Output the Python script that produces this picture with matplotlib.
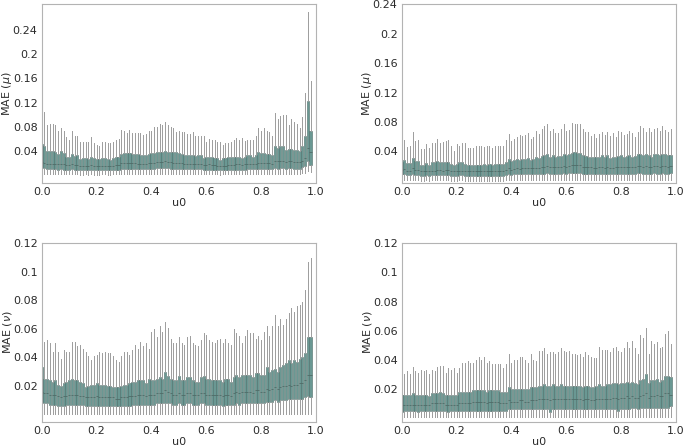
import numpy as np
import matplotlib
matplotlib.use("Agg")
import matplotlib.pyplot as plt

# u0 positions of the boxes
u0 = [round(0.01 * k, 2) for k in range(99)]

# --- MAE(mu), left model ---
mu_a_hi = [0.109, 0.105, 0.082, 0.084, 0.085, 0.082, 0.072, 0.077, 0.072, 0.062,
           0.058, 0.072, 0.064, 0.065, 0.055, 0.054, 0.055, 0.054, 0.063, 0.053,
           0.049, 0.048, 0.055, 0.055, 0.052, 0.052, 0.055, 0.057, 0.060, 0.074,
           0.072, 0.069, 0.074, 0.069, 0.070, 0.069, 0.069, 0.066, 0.068, 0.072,
           0.072, 0.079, 0.080, 0.084, 0.082, 0.087, 0.083, 0.079, 0.077, 0.071,
           0.072, 0.071, 0.071, 0.067, 0.067, 0.071, 0.065, 0.065, 0.065, 0.065,
           0.055, 0.059, 0.058, 0.057, 0.054, 0.055, 0.050, 0.053, 0.052, 0.055,
           0.057, 0.061, 0.057, 0.061, 0.056, 0.058, 0.058, 0.058, 0.065, 0.078,
           0.073, 0.078, 0.073, 0.071, 0.065, 0.102, 0.092, 0.097, 0.099, 0.100,
           0.082, 0.092, 0.088, 0.084, 0.078, 0.096, 0.135, 0.270, 0.156]
mu_a_q3 = [0.051, 0.048, 0.039, 0.039, 0.039, 0.038, 0.035, 0.039, 0.036, 0.030,
           0.030, 0.035, 0.031, 0.032, 0.026, 0.027, 0.027, 0.026, 0.029, 0.027,
           0.026, 0.026, 0.027, 0.027, 0.026, 0.025, 0.028, 0.029, 0.030, 0.035,
           0.036, 0.036, 0.036, 0.035, 0.035, 0.034, 0.033, 0.033, 0.033, 0.035,
           0.036, 0.036, 0.037, 0.038, 0.037, 0.040, 0.038, 0.038, 0.038, 0.038,
           0.036, 0.035, 0.033, 0.033, 0.033, 0.032, 0.031, 0.032, 0.033, 0.028,
           0.029, 0.030, 0.029, 0.028, 0.027, 0.025, 0.027, 0.027, 0.029, 0.030,
           0.030, 0.030, 0.030, 0.028, 0.030, 0.032, 0.032, 0.030, 0.033, 0.038,
           0.036, 0.036, 0.035, 0.034, 0.033, 0.048, 0.044, 0.047, 0.048, 0.041,
           0.043, 0.042, 0.041, 0.041, 0.039, 0.047, 0.065, 0.123, 0.073]
mu_a_med = [0.021, 0.020, 0.018, 0.018, 0.018, 0.018, 0.017, 0.018, 0.017, 0.016,
            0.016, 0.017, 0.016, 0.016, 0.015, 0.015, 0.015, 0.015, 0.016, 0.015,
            0.014, 0.014, 0.015, 0.015, 0.014, 0.014, 0.015, 0.016, 0.016, 0.019,
            0.019, 0.019, 0.019, 0.019, 0.019, 0.018, 0.018, 0.018, 0.018, 0.019,
            0.020, 0.020, 0.021, 0.021, 0.021, 0.022, 0.021, 0.021, 0.020, 0.020,
            0.019, 0.019, 0.018, 0.018, 0.018, 0.018, 0.017, 0.017, 0.018, 0.016,
            0.016, 0.017, 0.016, 0.016, 0.015, 0.015, 0.015, 0.015, 0.016, 0.016,
            0.016, 0.017, 0.017, 0.016, 0.017, 0.017, 0.018, 0.017, 0.018, 0.020,
            0.020, 0.020, 0.019, 0.019, 0.018, 0.023, 0.022, 0.023, 0.023, 0.021,
            0.022, 0.022, 0.021, 0.021, 0.021, 0.023, 0.028, 0.045, 0.038]
mu_a_q1 = [0.012, 0.011, 0.009, 0.009, 0.009, 0.009, 0.008, 0.009, 0.008, 0.008,
           0.008, 0.009, 0.008, 0.008, 0.007, 0.007, 0.007, 0.007, 0.008, 0.007,
           0.007, 0.007, 0.007, 0.007, 0.007, 0.007, 0.007, 0.008, 0.008, 0.010,
           0.010, 0.010, 0.010, 0.010, 0.010, 0.009, 0.009, 0.009, 0.009, 0.010,
           0.010, 0.010, 0.011, 0.011, 0.011, 0.011, 0.011, 0.010, 0.010, 0.010,
           0.010, 0.010, 0.009, 0.009, 0.009, 0.009, 0.009, 0.009, 0.009, 0.008,
           0.008, 0.008, 0.008, 0.008, 0.008, 0.007, 0.008, 0.008, 0.008, 0.008,
           0.008, 0.008, 0.008, 0.008, 0.008, 0.009, 0.009, 0.009, 0.009, 0.010,
           0.010, 0.010, 0.010, 0.009, 0.009, 0.011, 0.010, 0.011, 0.011, 0.010,
           0.011, 0.011, 0.010, 0.010, 0.010, 0.012, 0.014, 0.022, 0.016]
mu_a_lo = [0.001, 0.001, 0.001, 0.001, 0.001, 0.001, 0.001, 0.001, 0.001, 0.001,
           0.001, 0.001, 0.001, 0.001, 0.000, 0.000, 0.001, 0.000, 0.001, 0.000,
           0.000, 0.000, 0.001, 0.001, 0.000, 0.000, 0.001, 0.001, 0.001, 0.001,
           0.001, 0.001, 0.001, 0.001, 0.001, 0.001, 0.001, 0.001, 0.001, 0.001,
           0.001, 0.001, 0.001, 0.001, 0.001, 0.001, 0.001, 0.001, 0.001, 0.001,
           0.001, 0.001, 0.001, 0.001, 0.001, 0.001, 0.001, 0.001, 0.001, 0.001,
           0.001, 0.001, 0.001, 0.001, 0.001, 0.000, 0.001, 0.001, 0.001, 0.001,
           0.001, 0.001, 0.001, 0.001, 0.001, 0.001, 0.001, 0.001, 0.001, 0.001,
           0.001, 0.001, 0.001, 0.001, 0.001, 0.001, 0.001, 0.001, 0.001, 0.001,
           0.001, 0.001, 0.001, 0.001, 0.001, 0.002, 0.003, 0.006, 0.004]

# --- MAE(mu), right model ---
mu_b_hi = [0.052, 0.056, 0.046, 0.048, 0.066, 0.054, 0.056, 0.043, 0.043, 0.050,
           0.044, 0.051, 0.051, 0.057, 0.051, 0.053, 0.054, 0.055, 0.047, 0.041,
           0.050, 0.048, 0.051, 0.051, 0.045, 0.044, 0.044, 0.048, 0.048, 0.048,
           0.046, 0.048, 0.047, 0.044, 0.047, 0.047, 0.047, 0.047, 0.055, 0.064,
           0.054, 0.057, 0.059, 0.063, 0.061, 0.063, 0.065, 0.057, 0.059, 0.068,
           0.064, 0.071, 0.074, 0.077, 0.068, 0.071, 0.065, 0.065, 0.071, 0.077,
           0.068, 0.069, 0.078, 0.077, 0.077, 0.077, 0.071, 0.066, 0.067, 0.061,
           0.064, 0.058, 0.064, 0.067, 0.062, 0.066, 0.061, 0.065, 0.060, 0.068,
           0.067, 0.063, 0.064, 0.068, 0.065, 0.059, 0.066, 0.075, 0.072, 0.066,
           0.072, 0.066, 0.070, 0.072, 0.068, 0.074, 0.069, 0.067, 0.071]
mu_b_q3 = [0.026, 0.028, 0.024, 0.024, 0.031, 0.027, 0.027, 0.021, 0.021, 0.024,
           0.022, 0.025, 0.025, 0.027, 0.026, 0.025, 0.026, 0.026, 0.023, 0.021,
           0.023, 0.025, 0.025, 0.023, 0.022, 0.022, 0.022, 0.022, 0.022, 0.022,
           0.023, 0.022, 0.023, 0.022, 0.023, 0.023, 0.023, 0.023, 0.026, 0.030,
           0.027, 0.029, 0.030, 0.029, 0.030, 0.030, 0.031, 0.029, 0.030, 0.032,
           0.031, 0.034, 0.035, 0.036, 0.033, 0.035, 0.033, 0.034, 0.034, 0.036,
           0.035, 0.037, 0.038, 0.039, 0.038, 0.038, 0.035, 0.034, 0.033, 0.033,
           0.032, 0.032, 0.033, 0.035, 0.032, 0.035, 0.031, 0.032, 0.033, 0.034,
           0.035, 0.033, 0.034, 0.035, 0.033, 0.034, 0.037, 0.037, 0.035, 0.036,
           0.035, 0.033, 0.036, 0.036, 0.035, 0.036, 0.036, 0.035, 0.035]
mu_b_med = [0.015, 0.016, 0.014, 0.014, 0.017, 0.015, 0.015, 0.013, 0.013, 0.014,
            0.013, 0.014, 0.014, 0.015, 0.015, 0.014, 0.015, 0.015, 0.013, 0.013,
            0.013, 0.014, 0.014, 0.013, 0.013, 0.013, 0.013, 0.013, 0.013, 0.013,
            0.013, 0.013, 0.013, 0.013, 0.013, 0.013, 0.013, 0.013, 0.015, 0.017,
            0.015, 0.016, 0.017, 0.016, 0.017, 0.017, 0.018, 0.017, 0.017, 0.018,
            0.018, 0.019, 0.019, 0.020, 0.019, 0.019, 0.019, 0.019, 0.019, 0.020,
            0.019, 0.020, 0.021, 0.021, 0.021, 0.021, 0.019, 0.019, 0.019, 0.019,
            0.018, 0.018, 0.019, 0.019, 0.018, 0.019, 0.018, 0.018, 0.019, 0.019,
            0.019, 0.019, 0.019, 0.019, 0.019, 0.019, 0.020, 0.020, 0.019, 0.020,
            0.019, 0.019, 0.020, 0.020, 0.019, 0.020, 0.020, 0.019, 0.020]
mu_b_q1 = [0.009, 0.009, 0.008, 0.008, 0.009, 0.008, 0.008, 0.007, 0.007, 0.008,
           0.007, 0.008, 0.008, 0.008, 0.008, 0.008, 0.008, 0.008, 0.007, 0.007,
           0.007, 0.008, 0.008, 0.007, 0.007, 0.007, 0.007, 0.007, 0.007, 0.007,
           0.007, 0.007, 0.007, 0.007, 0.007, 0.007, 0.007, 0.007, 0.008, 0.009,
           0.008, 0.009, 0.009, 0.009, 0.009, 0.009, 0.010, 0.009, 0.009, 0.010,
           0.010, 0.010, 0.010, 0.011, 0.010, 0.010, 0.010, 0.010, 0.010, 0.011,
           0.010, 0.011, 0.011, 0.011, 0.011, 0.011, 0.010, 0.010, 0.010, 0.010,
           0.010, 0.010, 0.010, 0.010, 0.010, 0.010, 0.009, 0.010, 0.010, 0.010,
           0.010, 0.010, 0.010, 0.010, 0.010, 0.010, 0.011, 0.011, 0.010, 0.010,
           0.010, 0.010, 0.011, 0.010, 0.010, 0.011, 0.010, 0.010, 0.011]
mu_b_lo = [0.001, 0.001, 0.001, 0.001, 0.001, 0.001, 0.001, 0.000, 0.000, 0.001,
           0.000, 0.001, 0.001, 0.001, 0.001, 0.001, 0.001, 0.001, 0.000, 0.000,
           0.000, 0.001, 0.001, 0.000, 0.000, 0.000, 0.000, 0.000, 0.000, 0.000,
           0.000, 0.000, 0.000, 0.000, 0.000, 0.000, 0.000, 0.000, 0.001, 0.001,
           0.001, 0.001, 0.001, 0.001, 0.001, 0.001, 0.001, 0.001, 0.001, 0.001,
           0.001, 0.001, 0.001, 0.001, 0.001, 0.001, 0.001, 0.001, 0.001, 0.001,
           0.001, 0.001, 0.001, 0.001, 0.001, 0.001, 0.001, 0.001, 0.001, 0.001,
           0.001, 0.001, 0.001, 0.001, 0.001, 0.001, 0.001, 0.001, 0.001, 0.001,
           0.001, 0.001, 0.001, 0.001, 0.001, 0.001, 0.001, 0.001, 0.001, 0.001,
           0.001, 0.001, 0.001, 0.001, 0.001, 0.001, 0.001, 0.001, 0.001]

# --- MAE(nu), left model ---
nu_a_hi = [0.068, 0.051, 0.052, 0.050, 0.044, 0.050, 0.044, 0.039, 0.045, 0.044,
           0.044, 0.051, 0.051, 0.048, 0.049, 0.046, 0.044, 0.041, 0.038, 0.041,
           0.042, 0.044, 0.043, 0.044, 0.043, 0.043, 0.041, 0.038, 0.037, 0.041,
           0.044, 0.044, 0.042, 0.045, 0.049, 0.046, 0.051, 0.048, 0.050, 0.046,
           0.058, 0.060, 0.054, 0.062, 0.058, 0.065, 0.061, 0.053, 0.050, 0.050,
           0.054, 0.050, 0.049, 0.054, 0.055, 0.050, 0.049, 0.048, 0.052, 0.057,
           0.056, 0.052, 0.051, 0.050, 0.052, 0.053, 0.050, 0.053, 0.050, 0.049,
           0.060, 0.057, 0.055, 0.050, 0.055, 0.059, 0.057, 0.057, 0.053, 0.055,
           0.052, 0.058, 0.062, 0.055, 0.062, 0.070, 0.062, 0.067, 0.063, 0.067,
           0.071, 0.075, 0.072, 0.076, 0.077, 0.079, 0.087, 0.107, 0.110]
nu_a_q3 = [0.033, 0.025, 0.025, 0.024, 0.023, 0.024, 0.021, 0.020, 0.022, 0.023,
           0.024, 0.025, 0.024, 0.024, 0.023, 0.022, 0.019, 0.020, 0.021, 0.021,
           0.022, 0.021, 0.021, 0.021, 0.020, 0.020, 0.019, 0.019, 0.019, 0.020,
           0.021, 0.021, 0.022, 0.023, 0.023, 0.024, 0.024, 0.024, 0.022, 0.025,
           0.024, 0.024, 0.025, 0.026, 0.025, 0.030, 0.027, 0.025, 0.024, 0.024,
           0.027, 0.024, 0.024, 0.026, 0.026, 0.024, 0.023, 0.023, 0.026, 0.027,
           0.025, 0.025, 0.024, 0.024, 0.024, 0.024, 0.023, 0.025, 0.025, 0.023,
           0.026, 0.028, 0.026, 0.028, 0.028, 0.028, 0.028, 0.026, 0.029, 0.029,
           0.028, 0.028, 0.033, 0.030, 0.031, 0.032, 0.030, 0.033, 0.035, 0.036,
           0.038, 0.036, 0.038, 0.037, 0.039, 0.040, 0.043, 0.054, 0.054]
nu_a_med = [0.016, 0.015, 0.015, 0.014, 0.014, 0.014, 0.013, 0.012, 0.013, 0.013,
            0.014, 0.014, 0.014, 0.014, 0.013, 0.013, 0.012, 0.012, 0.012, 0.012,
            0.013, 0.012, 0.012, 0.012, 0.012, 0.012, 0.012, 0.011, 0.011, 0.012,
            0.012, 0.012, 0.013, 0.013, 0.013, 0.014, 0.014, 0.014, 0.013, 0.014,
            0.014, 0.014, 0.015, 0.015, 0.015, 0.017, 0.016, 0.015, 0.014, 0.014,
            0.015, 0.014, 0.014, 0.015, 0.015, 0.014, 0.014, 0.014, 0.015, 0.015,
            0.014, 0.014, 0.014, 0.014, 0.014, 0.014, 0.013, 0.014, 0.014, 0.013,
            0.015, 0.016, 0.015, 0.016, 0.016, 0.016, 0.016, 0.015, 0.017, 0.017,
            0.016, 0.016, 0.018, 0.017, 0.018, 0.019, 0.018, 0.019, 0.020, 0.020,
            0.021, 0.020, 0.021, 0.021, 0.022, 0.022, 0.024, 0.028, 0.028]
nu_a_q1 = [0.009, 0.008, 0.008, 0.007, 0.007, 0.007, 0.006, 0.006, 0.006, 0.007,
           0.007, 0.007, 0.007, 0.007, 0.007, 0.007, 0.006, 0.006, 0.006, 0.006,
           0.006, 0.006, 0.006, 0.006, 0.006, 0.006, 0.006, 0.006, 0.006, 0.006,
           0.006, 0.006, 0.006, 0.007, 0.007, 0.007, 0.007, 0.007, 0.007, 0.007,
           0.007, 0.007, 0.008, 0.008, 0.008, 0.008, 0.008, 0.008, 0.007, 0.007,
           0.008, 0.007, 0.007, 0.008, 0.008, 0.007, 0.007, 0.007, 0.008, 0.008,
           0.007, 0.007, 0.007, 0.007, 0.007, 0.007, 0.006, 0.007, 0.007, 0.007,
           0.007, 0.008, 0.007, 0.008, 0.008, 0.008, 0.008, 0.008, 0.008, 0.008,
           0.008, 0.008, 0.009, 0.009, 0.009, 0.010, 0.009, 0.010, 0.010, 0.010,
           0.011, 0.011, 0.011, 0.011, 0.011, 0.011, 0.012, 0.013, 0.012]
nu_a_lo = [0.0004, 0.0004, 0.0004, 0.0003, 0.0003, 0.0003, 0.0003, 0.0003, 0.0003, 0.0003,
           0.0003, 0.0003, 0.0003, 0.0003, 0.0003, 0.0003, 0.0003, 0.0003, 0.0003, 0.0003,
           0.0003, 0.0003, 0.0003, 0.0003, 0.0003, 0.0003, 0.0003, 0.0003, 0.0003, 0.0003,
           0.0003, 0.0003, 0.0003, 0.0003, 0.0003, 0.0003, 0.0003, 0.0003, 0.0003, 0.0003,
           0.0003, 0.0003, 0.0004, 0.0004, 0.0004, 0.0004, 0.0004, 0.0004, 0.0003, 0.0003,
           0.0004, 0.0003, 0.0003, 0.0004, 0.0004, 0.0003, 0.0003, 0.0003, 0.0004, 0.0004,
           0.0003, 0.0003, 0.0003, 0.0003, 0.0003, 0.0003, 0.0003, 0.0003, 0.0003, 0.0003,
           0.0003, 0.0004, 0.0003, 0.0004, 0.0004, 0.0004, 0.0004, 0.0004, 0.0004, 0.0004,
           0.0004, 0.0004, 0.0004, 0.0004, 0.0004, 0.0005, 0.0004, 0.0005, 0.0005, 0.0005,
           0.0005, 0.0005, 0.0005, 0.0005, 0.0005, 0.0005, 0.0006, 0.0007, 0.0006]

# --- MAE(nu), right model ---
nu_b_hi = [0.034, 0.030, 0.032, 0.030, 0.035, 0.032, 0.031, 0.033, 0.032, 0.033,
           0.030, 0.033, 0.032, 0.035, 0.036, 0.036, 0.031, 0.034, 0.033, 0.034,
           0.031, 0.034, 0.038, 0.038, 0.039, 0.038, 0.038, 0.040, 0.042, 0.040,
           0.042, 0.038, 0.039, 0.037, 0.037, 0.037, 0.037, 0.034, 0.037, 0.044,
           0.038, 0.040, 0.040, 0.042, 0.042, 0.040, 0.038, 0.044, 0.040, 0.039,
           0.046, 0.046, 0.048, 0.044, 0.045, 0.045, 0.044, 0.045, 0.048, 0.046,
           0.045, 0.046, 0.044, 0.044, 0.043, 0.044, 0.042, 0.045, 0.043, 0.042,
           0.041, 0.041, 0.049, 0.047, 0.047, 0.047, 0.045, 0.048, 0.049, 0.046,
           0.045, 0.048, 0.052, 0.048, 0.053, 0.048, 0.044, 0.057, 0.055, 0.062,
           0.044, 0.053, 0.051, 0.052, 0.048, 0.049, 0.058, 0.060, 0.051]
nu_b_q3 = [0.016, 0.016, 0.016, 0.016, 0.017, 0.016, 0.016, 0.016, 0.016, 0.016,
           0.015, 0.017, 0.017, 0.017, 0.018, 0.017, 0.016, 0.016, 0.016, 0.016,
           0.016, 0.018, 0.018, 0.018, 0.018, 0.018, 0.019, 0.019, 0.019, 0.019,
           0.019, 0.018, 0.019, 0.019, 0.019, 0.019, 0.018, 0.018, 0.018, 0.021,
           0.020, 0.020, 0.020, 0.020, 0.020, 0.020, 0.020, 0.021, 0.021, 0.021,
           0.022, 0.022, 0.023, 0.022, 0.022, 0.023, 0.022, 0.022, 0.023, 0.022,
           0.022, 0.022, 0.022, 0.022, 0.022, 0.022, 0.021, 0.022, 0.022, 0.021,
           0.021, 0.022, 0.023, 0.022, 0.022, 0.023, 0.023, 0.024, 0.024, 0.023,
           0.024, 0.024, 0.025, 0.024, 0.025, 0.024, 0.023, 0.026, 0.027, 0.030,
           0.024, 0.026, 0.026, 0.027, 0.025, 0.026, 0.029, 0.029, 0.028]
nu_b_med = [0.009, 0.009, 0.009, 0.009, 0.009, 0.009, 0.009, 0.009, 0.009, 0.009,
            0.009, 0.010, 0.010, 0.010, 0.010, 0.010, 0.009, 0.009, 0.009, 0.009,
            0.009, 0.010, 0.010, 0.010, 0.010, 0.010, 0.011, 0.011, 0.011, 0.011,
            0.011, 0.010, 0.011, 0.011, 0.011, 0.011, 0.010, 0.010, 0.010, 0.012,
            0.011, 0.011, 0.011, 0.012, 0.012, 0.011, 0.011, 0.012, 0.012, 0.012,
            0.013, 0.013, 0.013, 0.013, 0.012, 0.013, 0.013, 0.013, 0.013, 0.013,
            0.013, 0.013, 0.013, 0.013, 0.013, 0.013, 0.012, 0.013, 0.013, 0.012,
            0.012, 0.013, 0.013, 0.013, 0.013, 0.013, 0.013, 0.014, 0.014, 0.013,
            0.014, 0.014, 0.015, 0.014, 0.015, 0.014, 0.014, 0.015, 0.016, 0.017,
            0.014, 0.015, 0.015, 0.016, 0.015, 0.015, 0.017, 0.017, 0.016]
nu_b_q1 = [0.004, 0.005, 0.005, 0.005, 0.005, 0.005, 0.004, 0.005, 0.005, 0.005,
           0.005, 0.005, 0.005, 0.005, 0.005, 0.005, 0.005, 0.004, 0.005, 0.005,
           0.005, 0.005, 0.005, 0.005, 0.005, 0.005, 0.005, 0.005, 0.005, 0.005,
           0.005, 0.005, 0.005, 0.005, 0.005, 0.005, 0.005, 0.005, 0.005, 0.006,
           0.006, 0.006, 0.006, 0.006, 0.006, 0.006, 0.006, 0.006, 0.006, 0.006,
           0.006, 0.006, 0.006, 0.006, 0.004, 0.006, 0.006, 0.006, 0.006, 0.006,
           0.006, 0.006, 0.006, 0.006, 0.006, 0.006, 0.006, 0.006, 0.006, 0.006,
           0.006, 0.006, 0.006, 0.006, 0.006, 0.006, 0.006, 0.006, 0.006, 0.005,
           0.006, 0.006, 0.006, 0.006, 0.007, 0.007, 0.006, 0.007, 0.007, 0.007,
           0.007, 0.007, 0.007, 0.007, 0.007, 0.007, 0.007, 0.007, 0.008]
nu_b_lo = [0.0003, 0.0004, 0.0004, 0.0004, 0.0004, 0.0004, 0.0003, 0.0004, 0.0004, 0.0004,
           0.0004, 0.0004, 0.0004, 0.0004, 0.0004, 0.0004, 0.0004, 0.0003, 0.0004, 0.0004,
           0.0004, 0.0004, 0.0004, 0.0004, 0.0004, 0.0004, 0.0004, 0.0004, 0.0004, 0.0004,
           0.0004, 0.0004, 0.0004, 0.0004, 0.0004, 0.0004, 0.0004, 0.0004, 0.0004, 0.0004,
           0.0004, 0.0004, 0.0004, 0.0004, 0.0004, 0.0004, 0.0004, 0.0004, 0.0004, 0.0004,
           0.0004, 0.0004, 0.0004, 0.0004, 0.0003, 0.0004, 0.0004, 0.0004, 0.0004, 0.0004,
           0.0004, 0.0004, 0.0004, 0.0004, 0.0004, 0.0004, 0.0004, 0.0004, 0.0004, 0.0004,
           0.0004, 0.0004, 0.0004, 0.0004, 0.0004, 0.0004, 0.0004, 0.0004, 0.0004, 0.0004,
           0.0004, 0.0004, 0.0004, 0.0004, 0.0005, 0.0005, 0.0004, 0.0005, 0.0005, 0.0005,
           0.0005, 0.0005, 0.0005, 0.0005, 0.0005, 0.0005, 0.0005, 0.0005, 0.0006]

xtick_vals = [0.0, 0.2, 0.4, 0.6, 0.8, 1.0]
xtick_labels = ["0.0", "0.2", "0.4", "0.6", "0.8", "1.0"]
mu_ticks = [0.04, 0.08, 0.12, 0.16, 0.2, 0.24]
mu_labels = ["0.04", "0.08", "0.12", "0.16", "0.2", "0.24"]
nu_ticks = [0.02, 0.04, 0.06, 0.08, 0.1, 0.12]
nu_labels = ["0.02", "0.04", "0.06", "0.08", "0.1", "0.12"]

txt = "#2b2b2b"
plt.rcParams["font.family"] = "DejaVu Sans"
plt.rcParams["font.size"] = 8
plt.rcParams["text.color"] = txt
plt.rcParams["axes.labelcolor"] = txt
plt.rcParams["xtick.color"] = txt
plt.rcParams["ytick.color"] = txt

fig = plt.figure(figsize=(6.85, 4.46), dpi=100)
W, H = 685.0, 446.0
boxes = [
    # (left, top, right, bottom) in pixels
    (41.7, 4.3, 316.0, 182.7),
    (401.7, 4.3, 676.0, 182.7),
    (41.7, 243.3, 316.0, 421.7),
    (401.7, 243.3, 676.0, 421.7),
]
panels = [
    (mu_a_lo, mu_a_q1, mu_a_med, mu_a_q3, mu_a_hi, r"MAE ($\mu$)", mu_ticks, mu_labels, None),
    (mu_b_lo, mu_b_q1, mu_b_med, mu_b_q3, mu_b_hi, r"MAE ($\mu$)", mu_ticks, mu_labels, (-0.0025, 0.24)),
    (nu_a_lo, nu_a_q1, nu_a_med, nu_a_q3, nu_a_hi, r"MAE ($\nu$)", nu_ticks, nu_labels, (-0.005, 0.12)),
    (nu_b_lo, nu_b_q1, nu_b_med, nu_b_q3, nu_b_hi, r"MAE ($\nu$)", nu_ticks, nu_labels, (-0.0026, 0.12)),
]

for (l, t, r, b), (lo, q1, med, q3, hi, ylab, yt, ytl, ylim) in zip(boxes, panels):
    ax = fig.add_axes([l / W, 1 - b / H, (r - l) / W, (b - t) / H])
    stats = []
    for i in range(len(u0)):
        stats.append({"whislo": lo[i], "q1": q1[i], "med": med[i],
                      "q3": q3[i], "whishi": hi[i], "fliers": []})
    ax.bxp(stats, positions=u0, widths=0.0075, patch_artist=True,
           showfliers=False, showcaps=False, manage_ticks=False,
           boxprops=dict(facecolor="#6a9893", edgecolor="#4e6e6a", linewidth=0.4),
           whiskerprops=dict(color="#9c9c9c", linewidth=0.7),
           medianprops=dict(color="#4a625f", linewidth=0.5))
    ax.set_xlim(0.0, 1.0)
    if ylim is not None:
        ax.set_ylim(*ylim)
    ax.set_xticks(xtick_vals)
    ax.set_xticklabels(xtick_labels)
    ax.set_yticks(yt)
    ax.set_yticklabels(ytl)
    ax.tick_params(length=0, pad=3)
    for s in ax.spines.values():
        s.set_color("#b3b3b3")
        s.set_linewidth(0.8)
    ax.set_xlabel("u0", labelpad=1)
    ax.set_ylabel(ylab)
    ax.yaxis.set_label_coords(-0.100, 0.5)

fig.savefig("out.png", dpi=100)
